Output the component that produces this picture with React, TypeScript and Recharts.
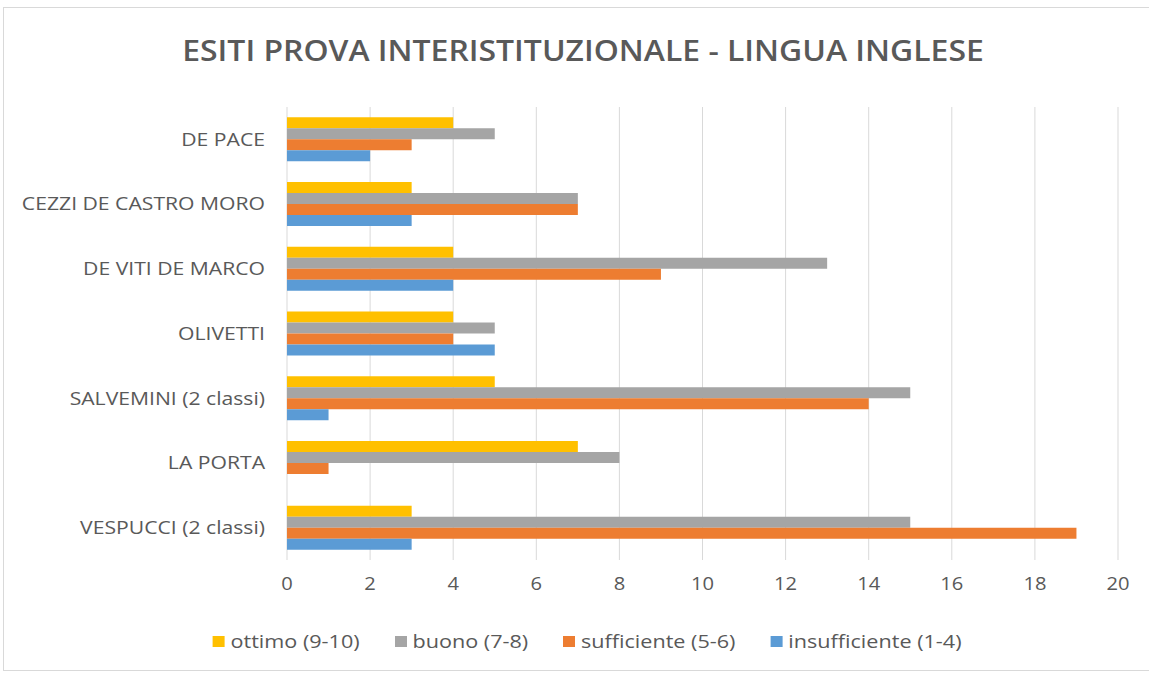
import React from 'react';
import { BarChart, Bar, XAxis, YAxis, CartesianGrid } from 'recharts';

const categories = ['DE PACE', 'CEZZI DE CASTRO MORO', 'DE VITI DE MARCO', 'OLIVETTI', 'SALVEMINI (2 classi)', 'LA PORTA', 'VESPUCCI (2 classi)'];
const ottimo = [4, 3, 4, 4, 5, 7, 3];
const buono = [5, 7, 13, 5, 15, 8, 15];
const sufficiente = [3, 7, 9, 4, 14, 1, 19];
const insufficiente = [2, 3, 4, 5, 1, 0, 3];
const xTicks = [0, 2, 4, 6, 8, 10, 12, 14, 16, 18, 20];

const seriesNames = ['ottimo (9-10)', 'buono (7-8)', 'sufficiente (5-6)', 'insufficiente (1-4)'];
const colors = ['#FFC000', '#A5A5A5', '#ED7D31', '#5B9BD5'];
const keys = ['ottimo', 'buono', 'sufficiente', 'insufficiente'];

const data = categories.map((c, i) => ({
  name: c,
  ottimo: ottimo[i],
  buono: buono[i],
  sufficiente: sufficiente[i],
  insufficiente: insufficiente[i],
}));

const FONT = "'Open Sans', 'Liberation Sans', sans-serif";
const SX = 1.176;

const YTick = (props: any) => {
  const { x, y, payload } = props;
  return (
    <g transform={`translate(${x},${y}) scale(${SX},1)`}>
      <text x={0} y={0} dy="0.35em" textAnchor="end" fill="#595959" fontSize={18} fontFamily={FONT}>
        {payload.value}
      </text>
    </g>
  );
};

const XTick = (props: any) => {
  const { x, y, payload } = props;
  return (
    <g transform={`translate(${x},${y}) scale(1.12,1)`}>
      <text x={0} y={0} dy="0.71em" textAnchor="middle" fill="#595959" fontSize={18} fontFamily={FONT}>
        {payload.value}
      </text>
    </g>
  );
};

export default function App() {
  return (
    <div style={{ position: 'absolute', left: 0, top: 0, width: 1149, height: 677, background: '#fff', overflow: 'hidden' }}>
      <div style={{ position: 'absolute', left: 3, top: 7, width: 1150, height: 664, border: '1px solid #d9d9d9', boxSizing: 'border-box' }} />
      <div style={{ position: 'absolute', left: 0, top: 31, width: 1166, textAlign: 'center', fontFamily: FONT, fontSize: 28, fontWeight: 600, color: '#595959', transform: 'scaleX(1.14)', transformOrigin: '583px 0' }}>
        ESITI PROVA INTERISTITUZIONALE - LINGUA INGLESE
      </div>
      <BarChart
        width={1149}
        height={677}
        data={data}
        layout="vertical"
        margin={{ top: 107, right: 31, bottom: 87, left: 0 }}
        barCategoryGap="16%"
        barGap={0}
      >
        <CartesianGrid horizontal={false} stroke="#d9d9d9" />
        <XAxis
          type="number"
          domain={[0, 20]}
          ticks={xTicks}
          axisLine={false}
          tickLine={false}
          tickSize={0}
          tickMargin={17}
          height={30}
          tick={<XTick />}
          interval={0}
        />
        <YAxis
          type="category"
          dataKey="name"
          width={287}
          axisLine={false}
          tickLine={false}
          tickSize={0}
          tickMargin={22}
          tick={<YTick />}
          interval={0}
        />
        {keys.map((k, i) => (
          <Bar key={k} dataKey={k} name={seriesNames[i]} fill={colors[i]} isAnimationActive={false} />
        ))}
      </BarChart>
      <div style={{ position: 'absolute', left: 0, top: 629, width: 1174, display: 'flex', justifyContent: 'center', fontFamily: FONT, fontSize: 18, color: '#595959', transform: 'scaleX(1.2)', transformOrigin: '587px 0' }}>
        {seriesNames.map((n, i) => (
          <div key={n} style={{ display: 'flex', alignItems: 'center', marginRight: i < 3 ? 29 : 0 }}>
            <span style={{ display: 'inline-block', width: 10, height: 11, background: colors[i], marginRight: 5 }} />
            <span>{n}</span>
          </div>
        ))}
      </div>
    </div>
  );
}
